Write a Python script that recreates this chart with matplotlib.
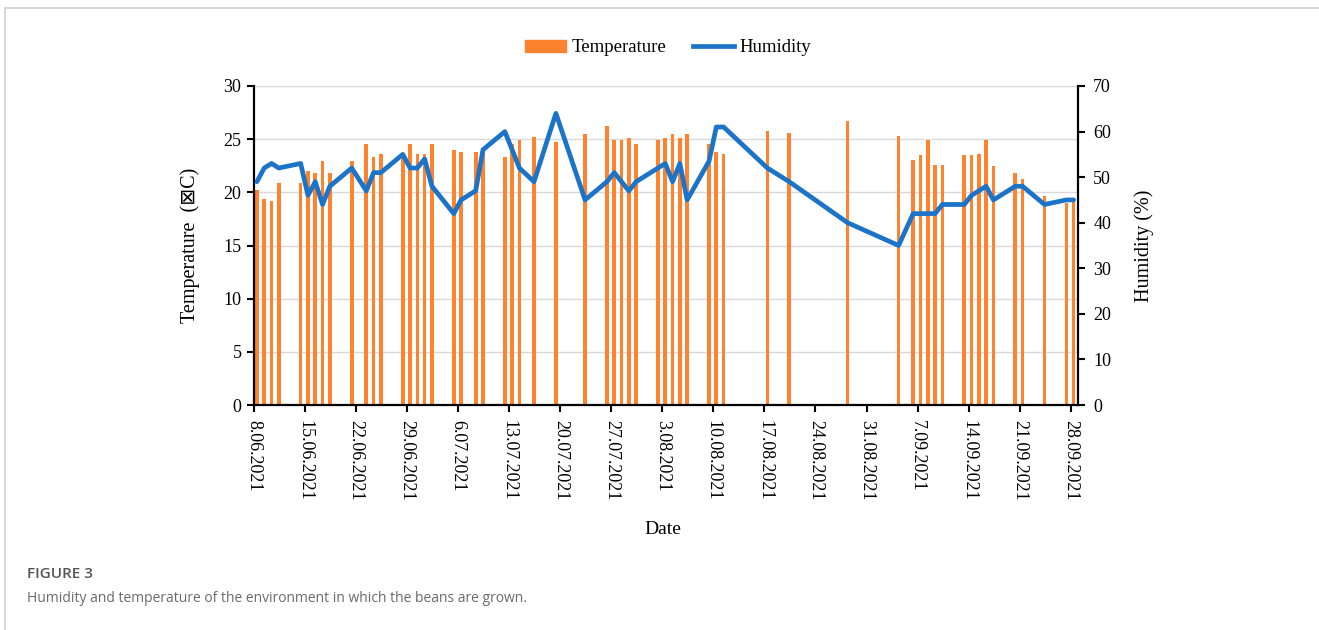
import matplotlib
matplotlib.use('Agg')
import matplotlib.pyplot as plt
import matplotlib.dates as mdates
import pandas as pd
from matplotlib.lines import Line2D
from matplotlib.patches import Rectangle

# ---------------- data ----------------
dates = [
    "08.06.2021", "09.06.2021", "10.06.2021", "11.06.2021", "14.06.2021",
    "15.06.2021", "16.06.2021", "17.06.2021", "18.06.2021", "21.06.2021",
    "23.06.2021", "24.06.2021", "25.06.2021", "28.06.2021", "29.06.2021",
    "30.06.2021", "01.07.2021", "02.07.2021", "05.07.2021", "06.07.2021",
    "08.07.2021", "09.07.2021", "12.07.2021", "13.07.2021", "14.07.2021",
    "16.07.2021", "19.07.2021", "23.07.2021", "26.07.2021", "27.07.2021",
    "28.07.2021", "29.07.2021", "30.07.2021", "02.08.2021", "03.08.2021",
    "04.08.2021", "05.08.2021", "06.08.2021", "09.08.2021", "10.08.2021",
    "11.08.2021", "17.08.2021", "20.08.2021", "28.08.2021", "04.09.2021",
    "06.09.2021", "07.09.2021", "08.09.2021", "09.09.2021", "10.09.2021",
    "13.09.2021", "14.09.2021", "15.09.2021", "16.09.2021", "17.09.2021",
    "20.09.2021", "21.09.2021", "24.09.2021", "27.09.2021", "28.09.2021",
]

temperature = [
    20.2, 19.4, 19.2, 20.9, 20.9,
    22.0, 21.8, 22.9, 21.8, 22.9,
    24.5, 23.3, 23.6, 23.3, 24.5,
    23.6, 23.6, 24.5, 24.0, 23.8,
    23.8, 24.0, 23.3, 24.5, 24.9,
    25.2, 24.7, 25.5, 26.2, 24.9,
    24.9, 25.1, 24.5, 24.9, 25.1,
    25.5, 25.1, 25.5, 24.5, 23.8,
    23.6, 25.8, 25.6, 26.7, 25.3,
    23.0, 23.5, 24.9, 22.6, 22.6,
    23.5, 23.5, 23.6, 24.9, 22.5,
    21.8, 21.3, 19.7, 19.0, 19.5,
]

humidity = [
    49.0, 52.0, 53.0, 52.0, 53.0,
    46.0, 49.0, 44.0, 48.0, 52.0,
    47.0, 51.0, 51.0, 55.0, 52.0,
    52.0, 54.0, 48.0, 42.0, 45.0,
    47.0, 56.0, 60.0, 56.0, 52.0,
    49.0, 64.0, 45.0, 49.0, 51.0,
    49.0, 47.0, 49.0, 52.0, 53.0,
    49.0, 53.0, 45.0, 53.5, 61.0,
    61.0, 52.0, 49.0, 40.0, 35.0,
    42.0, 42.0, 42.0, 42.0, 44.0,
    44.0, 46.0, 47.0, 48.0, 45.0,
    48.0, 48.0, 44.0, 45.0, 45.0,
]

tick_start = "2021-06-08"
tick_end = "2021-09-28"

temp_ticks = [0, 5, 10, 15, 20, 25, 30]
hum_ticks = [0, 10, 20, 30, 40, 50, 60, 70]

# ---------------- style ----------------
ORANGE = '#FF832E'
BLUE = '#1C74C9'
plt.rcParams['font.family'] = ['Liberation Serif', 'DejaVu Sans']

W, H = 1319, 630
fig = plt.figure(figsize=(W / 100, H / 100), dpi=100)
fig.patch.set_facecolor('white')

L, R, T, B = 254, 1078, 86, 405
ax = fig.add_axes([L / W, 1 - B / H, (R - L) / W, (B - T) / H])
ax2 = ax.twinx()

x = mdates.date2num(pd.to_datetime(dates, format='%d.%m.%Y'))
x0 = mdates.date2num(pd.Timestamp(tick_start))

ax.bar(x + 0.4, temperature, width=0.5, color=ORANGE, zorder=2, linewidth=0)
ax2.plot(x + 0.4, humidity, color=BLUE, lw=3.4, solid_joinstyle='round',
         solid_capstyle='round', zorder=3)

ax.set_xlim(x0, x0 + 113)
ax.set_ylim(0, 30)
ax2.set_ylim(0, 70)
ax.set_yticks(temp_ticks)
ax2.set_yticks(hum_ticks)

ticks = pd.date_range(tick_start, tick_end, freq='7D')
ax.set_xticks(mdates.date2num(ticks))
ax.set_xticklabels([f"{d.day}.{d.month:02d}.{d.year}" for d in ticks],
                   rotation=-90, ha='center', va='top', fontsize=13)

ax.yaxis.grid(True, color='#d9d9d9', lw=1.0, zorder=0)
ax.set_axisbelow(True)

for s in ['top', 'right']:
    ax.spines[s].set_visible(False)
for s in ['top', 'left', 'bottom']:
    ax2.spines[s].set_visible(False)
for sp in [ax.spines['left'], ax.spines['bottom'], ax2.spines['right']]:
    sp.set_color('black')
    sp.set_linewidth(1.6)

ax.tick_params(axis='both', direction='out', length=5, width=1.5, colors='black',
               labelsize=13, pad=4)
ax.tick_params(axis='x', pad=6)
ax2.tick_params(axis='y', direction='out', length=5, width=1.5, colors='black',
                labelsize=13, pad=6)

ax.set_ylabel('Temperature  (\u22a0C)', fontsize=14.5)
ax.yaxis.set_label_coords(-0.066, 0.5)
ax2.set_ylabel('Humidity (%)', fontsize=14.5, rotation=90)
ax2.yaxis.set_label_coords(1.068, 0.5)

fig.text(663 / W, 1 - 530 / H, 'Date', ha='center', va='center', fontsize=14)

handles = [Rectangle((0, 0), 1, 1, color=ORANGE),
           Line2D([], [], color=BLUE, lw=3.4)]
fig.legend(handles, ['Temperature', 'Humidity'], loc='center',
           bbox_to_anchor=(668 / W, 1 - 48 / H), ncol=2, frameon=False,
           fontsize=13.5, handlelength=2.2, handleheight=0.6,
           columnspacing=1.4, handletextpad=0.3)

# caption
fig.text(27 / W, 1 - 574 / H, 'FIGURE 3', ha='left', va='center',
         fontsize=11, color='#555555', fontweight='semibold',
         family=['Liberation Sans Narrow', 'Open Sans', 'DejaVu Sans'])
fig.text(27 / W, 1 - 598 / H,
         'Humidity and temperature of the environment in which the beans are grown.',
         ha='left', va='center', fontsize=10, color='#6a6a6a',
         family=['Liberation Sans Narrow', 'Open Sans', 'DejaVu Sans'])

# frame
fig.add_artist(Line2D([5 / W, 1.0], [1 - 8 / H, 1 - 8 / H], color='#cfcfcf',
                      lw=1.2, transform=fig.transFigure))
fig.add_artist(Line2D([5 / W, 5 / W], [1 - 8 / H, 0.0], color='#cfcfcf',
                      lw=1.2, transform=fig.transFigure))

fig.savefig('out.png', dpi=100, facecolor='white')
